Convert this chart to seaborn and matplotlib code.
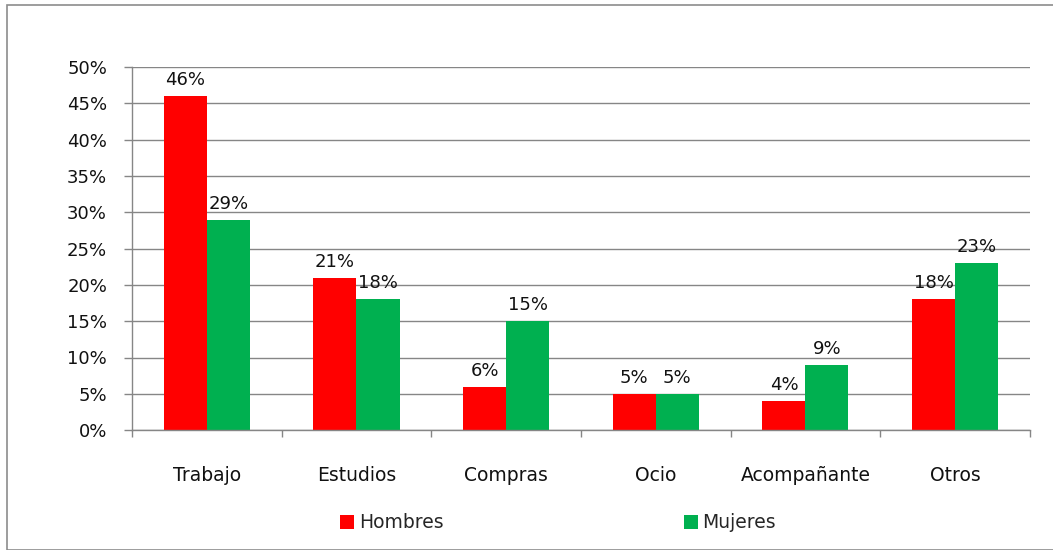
import pandas as pd
import matplotlib.pyplot as plt
import seaborn as sns
from matplotlib.patches import Rectangle
from matplotlib.ticker import PercentFormatter

categorias = ["Trabajo", "Estudios", "Compras", "Ocio", "Acompañante", "Otros"]
hombres = [46, 21, 6, 5, 4, 18]
mujeres = [29, 18, 15, 5, 9, 23]
series = ["Hombres", "Mujeres"]
colores = ["#FF0000", "#00B050"]

data = pd.DataFrame({
    "categoria": categorias * 2,
    "valor": hombres + mujeres,
    "serie": [series[0]] * len(categorias) + [series[1]] * len(categorias),
})

sns.set_theme(style="white")
plt.rcParams["font.family"] = ["DejaVu Sans"]
fs = 13.5
fs_val = 13

fig = plt.figure(figsize=(10.53, 5.5), dpi=100)
ax = fig.add_axes([0.1254, 0.218, 0.8526, 0.66])

sns.barplot(data=data, x="categoria", y="valor", hue="serie", palette=colores,
            saturation=1, width=0.575, linewidth=0, ax=ax, legend=True)

for cont in ax.containers:
    ax.bar_label(cont, fmt="%d%%", padding=5, fontsize=fs_val, color="#111111")

ax.set_ylim(0, 50)
ax.set_xlim(-0.5, len(categorias) - 0.5)
ax.set_yticks(range(0, 51, 5))
ax.yaxis.set_major_formatter(PercentFormatter(decimals=0))
ax.set_xticks([i + 0.5 for i in range(-1, len(categorias))], minor=True)
ax.tick_params(axis="x", which="major", length=0, pad=26, labelsize=fs, labelcolor="#111111")
ax.tick_params(axis="x", which="minor", length=5, width=1, color="#868686", direction="out", bottom=True)
ax.tick_params(axis="y", length=6, width=1, color="#868686", direction="out", left=True,
               labelsize=fs_val, labelcolor="#111111", pad=12)
ax.grid(axis="y", color="#868686", lw=1)
ax.set_axisbelow(True)
ax.set_xlabel("")
ax.set_ylabel("")
sns.despine(ax=ax, top=True, right=True)
for s in ["left", "bottom"]:
    ax.spines[s].set_color("#868686")
    ax.spines[s].set_linewidth(1)

handles, labels = ax.get_legend_handles_labels()
ax.get_legend().remove()
fig.legend(handles, labels, loc="center", bbox_to_anchor=(558 / 1053, 1 - 523 / 550),
           ncol=2, frameon=False, fontsize=fs, handlelength=0.75, handleheight=0.75,
           handletextpad=0.25, columnspacing=12.8)

fig.patches.append(Rectangle((7 / 1053, 0), 1, 1 - 5 / 550, transform=fig.transFigure,
                             fill=False, edgecolor="#8c8c8c", lw=1.2))

fig.savefig("out.png", dpi=100)
